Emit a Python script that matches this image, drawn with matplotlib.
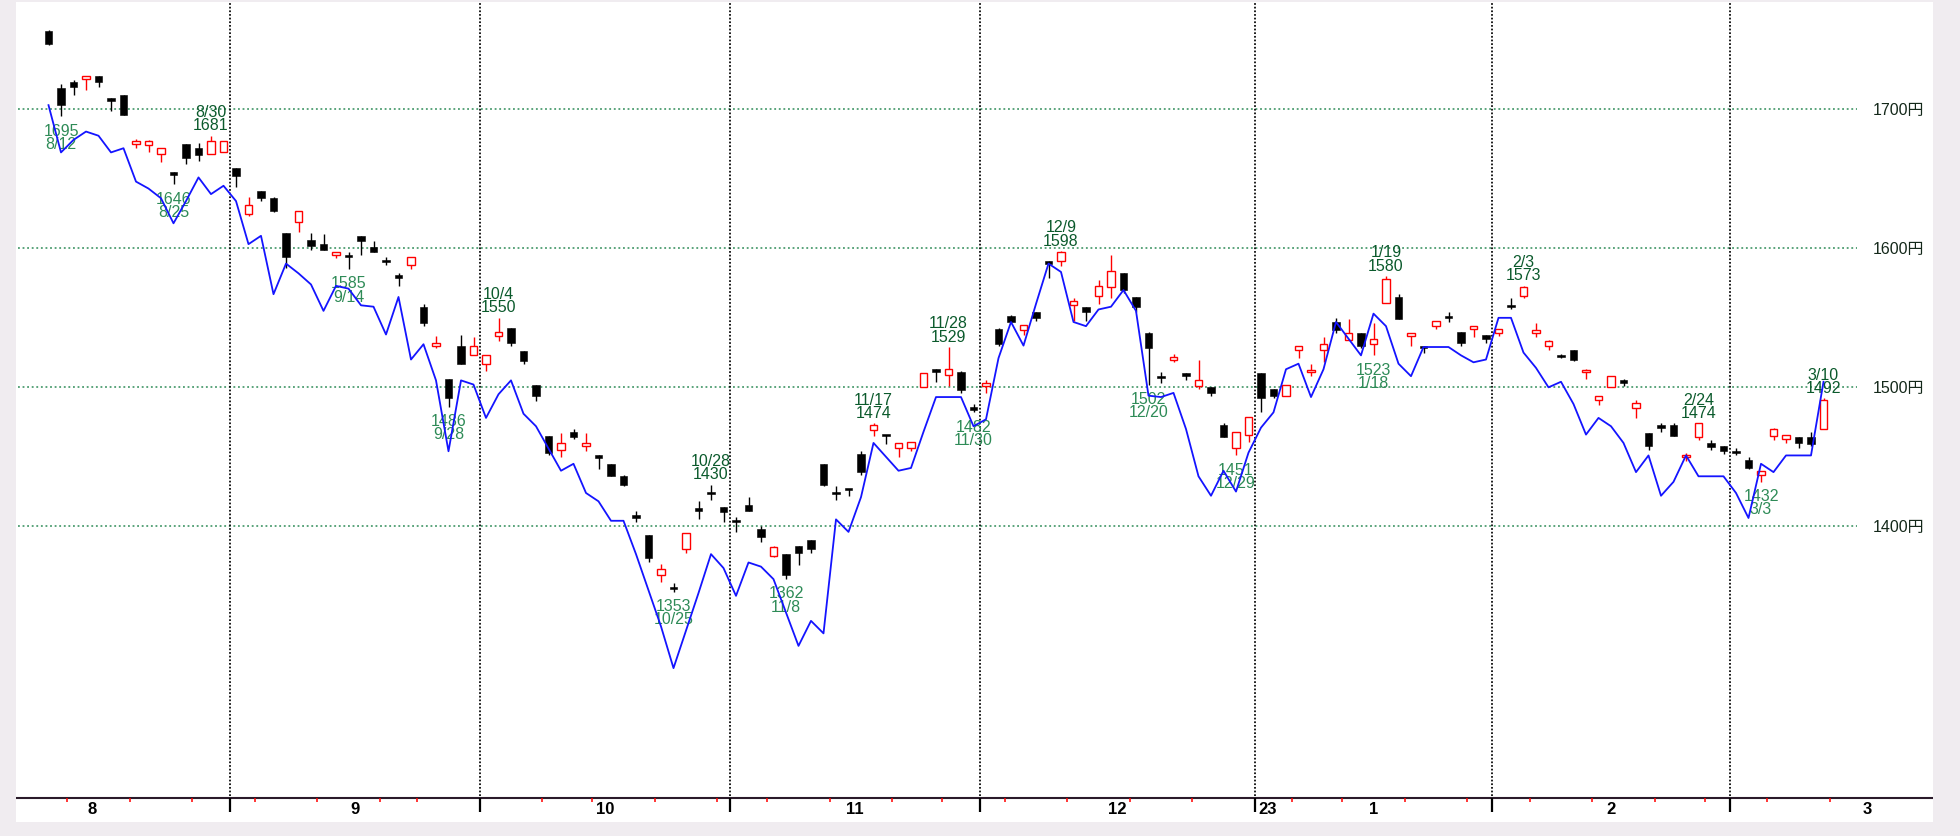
import numpy as np
import pandas as pd
import matplotlib
matplotlib.use("Agg")
import matplotlib.pyplot as plt
from matplotlib.patches import Rectangle
from matplotlib.transforms import blended_transform_factory

# trading calendar (Tokyo), Aug 2022 - Mar 2023
holidays = ['2022-08-11', '2022-09-19', '2022-09-23', '2022-10-10', '2022-11-03',
            '2022-11-23', '2023-01-02', '2023-01-03', '2023-01-09', '2023-02-23',
            '2023-03-21']
cal = pd.bdate_range('2022-08-01', '2023-03-31', freq='C', holidays=holidays)
first_day = '2022-08-10'
last_day = '2023-03-10'

# daily candles 8/10 .. 3/10
opens = [1756, 1715, 1720, 1722, 1724, 1708, 1710, 1675, 1674, 1668,
         1655, 1675, 1672, 1668, 1669, 1658, 1625, 1641, 1636, 1611,
         1619, 1606, 1603, 1595, 1595, 1609, 1601, 1591, 1580, 1588,
         1558, 1530, 1506, 1530, 1523, 1517, 1537, 1543, 1526, 1502,
         1465, 1455, 1468, 1458, 1451, 1445, 1436, 1408, 1394, 1365,
         1356, 1384, 1413, 1424, 1414, 1404, 1415, 1398, 1379, 1380,
         1386, 1390, 1445, 1424, 1427, 1452, 1469, 1466, 1456, 1456,
         1500, 1513, 1509, 1511, 1485, 1501, 1542, 1551, 1541, 1554,
         1591, 1591, 1559, 1558, 1566, 1572, 1582, 1565, 1539, 1508,
         1520, 1510, 1501, 1500, 1473, 1456, 1466, 1510, 1499, 1494,
         1527, 1511, 1527, 1547, 1534, 1539, 1531, 1561, 1565, 1537,
         1529, 1544, 1551, 1540, 1542, 1538, 1539, 1559, 1566, 1539,
         1530, 1523, 1527, 1511, 1491, 1500, 1505, 1485, 1467, 1473,
         1473, 1450, 1464, 1460, 1458, 1454, 1448, 1437, 1465, 1463,
         1464, 1464, 1470]
highs = [1757, 1718, 1721, 1724, 1724, 1708, 1710, 1679, 1678, 1672,
         1655, 1675, 1676, 1681, 1677, 1658, 1637, 1641, 1637, 1611,
         1627, 1611, 1610, 1597, 1597, 1609, 1605, 1594, 1582, 1594,
         1560, 1537, 1506, 1538, 1536, 1523, 1550, 1543, 1526, 1502,
         1465, 1467, 1470, 1467, 1451, 1445, 1437, 1411, 1394, 1373,
         1359, 1395, 1418, 1430, 1414, 1407, 1421, 1400, 1386, 1380,
         1386, 1390, 1445, 1429, 1427, 1454, 1474, 1466, 1460, 1461,
         1510, 1513, 1529, 1512, 1488, 1505, 1543, 1552, 1545, 1554,
         1591, 1598, 1564, 1558, 1577, 1595, 1582, 1565, 1540, 1511,
         1524, 1510, 1520, 1500, 1474, 1468, 1479, 1510, 1499, 1502,
         1530, 1517, 1536, 1550, 1549, 1539, 1546, 1580, 1567, 1539,
         1530, 1548, 1554, 1540, 1544, 1538, 1542, 1564, 1573, 1546,
         1534, 1524, 1527, 1513, 1494, 1508, 1506, 1491, 1467, 1474,
         1474, 1453, 1474, 1462, 1458, 1456, 1450, 1440, 1471, 1466,
         1464, 1468, 1492]
lows = [1746, 1695, 1710, 1714, 1716, 1699, 1696, 1672, 1669, 1662,
        1646, 1661, 1663, 1668, 1669, 1644, 1623, 1634, 1626, 1586,
        1612, 1599, 1599, 1593, 1585, 1595, 1597, 1588, 1573, 1585,
        1544, 1528, 1486, 1517, 1523, 1512, 1533, 1530, 1517, 1490,
        1451, 1450, 1463, 1454, 1441, 1436, 1429, 1403, 1374, 1360,
        1353, 1381, 1405, 1419, 1403, 1396, 1411, 1389, 1378, 1362,
        1372, 1381, 1429, 1419, 1422, 1437, 1465, 1459, 1450, 1454,
        1500, 1504, 1501, 1496, 1482, 1496, 1530, 1547, 1538, 1548,
        1579, 1587, 1548, 1548, 1560, 1564, 1568, 1554, 1502, 1503,
        1518, 1505, 1499, 1494, 1464, 1451, 1461, 1482, 1492, 1494,
        1521, 1508, 1518, 1539, 1534, 1528, 1523, 1561, 1549, 1530,
        1525, 1542, 1547, 1530, 1536, 1532, 1537, 1556, 1564, 1536,
        1527, 1521, 1519, 1506, 1487, 1500, 1501, 1478, 1455, 1468,
        1465, 1447, 1462, 1455, 1452, 1451, 1441, 1432, 1462, 1460,
        1456, 1458, 1470]
closes = [1747, 1703, 1716, 1724, 1720, 1706, 1696, 1677, 1677, 1672,
          1653, 1665, 1667, 1677, 1677, 1652, 1631, 1636, 1627, 1594,
          1627, 1602, 1599, 1597, 1594, 1605, 1597, 1590, 1579, 1594,
          1546, 1532, 1492, 1517, 1530, 1523, 1540, 1532, 1519, 1494,
          1453, 1460, 1464, 1460, 1449, 1436, 1430, 1406, 1377, 1369,
          1355, 1395, 1411, 1423, 1410, 1403, 1411, 1392, 1385, 1365,
          1381, 1384, 1430, 1423, 1426, 1439, 1473, 1465, 1460, 1461,
          1510, 1511, 1513, 1498, 1484, 1503, 1531, 1547, 1545, 1550,
          1589, 1597, 1562, 1554, 1573, 1584, 1570, 1558, 1528, 1507,
          1522, 1508, 1505, 1496, 1464, 1468, 1479, 1492, 1494, 1502,
          1530, 1512, 1531, 1541, 1539, 1530, 1535, 1578, 1549, 1539,
          1528, 1548, 1550, 1532, 1544, 1535, 1542, 1558, 1572, 1541,
          1533, 1522, 1520, 1512, 1494, 1508, 1503, 1489, 1458, 1471,
          1465, 1451, 1474, 1457, 1454, 1453, 1442, 1440, 1470, 1466,
          1460, 1459, 1491]
# comparison line (blue)
compare = [1703, 1669, 1678, 1684, 1681, 1669, 1672, 1648, 1643, 1636,
           1618, 1634, 1651, 1639, 1645, 1634, 1603, 1609, 1567, 1589,
           1582, 1574, 1555, 1573, 1571, 1559, 1558, 1538, 1565, 1520,
           1531, 1505, 1454, 1505, 1502, 1478, 1495, 1505, 1481, 1472,
           1456, 1440, 1445, 1424, 1418, 1404, 1404, 1380, 1354, 1328,
           1298, 1325, 1352, 1380, 1370, 1350, 1374, 1371, 1362, 1338,
           1314, 1332, 1323, 1405, 1396, 1421, 1460, 1450, 1440, 1442,
           1468, 1493, 1493, 1493, 1472, 1477, 1521, 1547, 1530, 1560,
           1589, 1583, 1547, 1544, 1556, 1558, 1570, 1555, 1494, 1493,
           1496, 1470, 1436, 1422, 1440, 1425, 1453, 1471, 1482, 1513,
           1517, 1493, 1513, 1547, 1535, 1523, 1553, 1544, 1517, 1508,
           1529, 1529, 1529, 1523, 1518, 1520, 1550, 1550, 1525, 1514,
           1500, 1504, 1488, 1466, 1478, 1472, 1460, 1439, 1451, 1422,
           1432, 1451, 1436, 1436, 1436, 1424, 1406, 1445, 1439, 1451,
           1451, 1451, 1504]

# marked highs / lows (date, price)
peak_dates = ['2022-08-30', '2022-10-04', '2022-10-28', '2022-11-17', '2022-11-28',
              '2022-12-09', '2023-01-19', '2023-02-03', '2023-02-24', '2023-03-10']
peak_vals = [1681, 1550, 1430, 1474, 1529, 1598, 1580, 1573, 1474, 1492]
trough_dates = ['2022-08-12', '2022-08-25', '2022-09-14', '2022-09-28', '2022-10-25',
                '2022-11-08', '2022-11-30', '2022-12-20', '2022-12-29', '2023-01-18',
                '2023-03-03']
trough_vals = [1695, 1646, 1585, 1486, 1353, 1362, 1482, 1502, 1451, 1523, 1432]

price_grid = [1400, 1500, 1600, 1700]

jp = ['Liberation Sans', 'Noto Sans CJK JP']

fig = plt.figure(figsize=(19.6, 8.37), dpi=100, facecolor='#f0ecf0')
ax = fig.add_axes([16/1960, 14/837, 1917/1960, 820/837])
ax.set_facecolor('white')
for s in ax.spines.values():
    s.set_visible(False)
ax.set_xticks([])
ax.set_yticks([])
ax.set_xlim(4.4, 157.76)
ax.set_ylim(1187.3, 1777.2)

i0 = cal.get_loc(pd.Timestamp(first_day))
i1 = cal.get_loc(pd.Timestamp(last_day))
xs = np.arange(i0, i1 + 1)
n = len(xs)
o = np.array(opens[:n]); h = np.array(highs[:n]); l = np.array(lows[:n]); c = np.array(closes[:n])

xa = ax.get_xaxis_transform()   # x data, y axes
ya = blended_transform_factory(ax.transAxes, ax.transData)

# price grid
for p in price_grid:
    ax.plot([4.56, 151.68], [p, p], color='#2e8b57', lw=1.1,
            dashes=(1.2, 1.8), zorder=1)
    ax.text(0.9687, p, f'{p}円', transform=ya, ha='left', va='center',
            fontsize=11.5, color='#14281a', family=jp)

# month separators, month labels, week ticks
ax.plot([4.4, 157.76], [0.0293, 0.0293], transform=xa, color='#2a1a2a', lw=1.5,
        zorder=4, solid_capstyle='butt')
months = pd.Series(np.arange(len(cal)), index=cal)
for (yr, mo), grp in months.groupby([cal.year, cal.month]):
    start, end = grp.iloc[0], grp.iloc[-1]
    ctr = (start + end) / 2
    ax.text(ctr, 0.0159, str(mo), transform=xa, ha='center', va='center',
            fontsize=12, fontweight='bold', color='black', family=jp)
    if start > 0:
        b = start - 0.5
        ax.plot([b, b], [0.0317, 1.0], transform=xa, color='black', lw=1.25,
                dashes=(1, 1.1), zorder=1)
        ax.plot([b, b], [0.0293, 0.0122], transform=xa, color='black', lw=1.6,
                zorder=4, solid_capstyle='butt')
        if mo == 1:
            ax.annotate(str(yr)[-2:], xy=(b, 0.0159), xycoords=xa,
                        xytext=(2.5, 0), textcoords='offset points',
                        ha='left', va='center', fontsize=12,
                        fontweight='bold', color='black', family=jp)

wk = cal.isocalendar().week.values
mo_arr = cal.month.values
for k in range(i0, min(i1 + 2, len(cal))):
    if wk[k] != wk[k - 1] and mo_arr[k] == mo_arr[k - 1]:
        ax.plot([k - 0.5, k - 0.5], [0.0293, 0.0238], transform=xa,
                color='#ff0000', lw=1.1, zorder=5, solid_capstyle='butt')

# candles
w = 0.62
for x, oo, hh, ll, cc in zip(xs, o, h, l, c):
    up = cc > oo
    col = '#ff0000' if up else 'black'
    ax.plot([x, x], [ll, hh], color=col, lw=1.0, zorder=2, solid_capstyle='butt')
    bot = min(oo, cc)
    ht = max(abs(cc - oo), 1.5)
    if up:
        ax.add_patch(Rectangle((x - w/2, bot), w, ht, facecolor='white',
                               edgecolor=col, lw=1.0, zorder=3))
    else:
        ax.add_patch(Rectangle((x - w/2, bot), w, ht, facecolor='black',
                               edgecolor='black', lw=0.4, zorder=3))

# blue comparison line
ax.plot(xs, compare[:n], color='#1414ff', lw=1.3, zorder=6)

# labels for marked highs and lows
for d, v in zip(peak_dates, peak_vals):
    x = cal.get_loc(pd.Timestamp(d))
    ts = pd.Timestamp(d)
    ax.annotate(f'{ts.month}/{ts.day}\n{v}', xy=(x, v), xytext=(0, 2.5),
                textcoords='offset points', ha='center', va='bottom',
                fontsize=11.5, color='#0b5a2c', family=jp, linespacing=0.85,
                zorder=5)
for d, v in zip(trough_dates, trough_vals):
    x = cal.get_loc(pd.Timestamp(d))
    ts = pd.Timestamp(d)
    ax.annotate(f'{v}\n{ts.month}/{ts.day}', xy=(x, v), xytext=(0, -4.5),
                textcoords='offset points', ha='center', va='top',
                fontsize=11.5, color='#2e8b57', family=jp, linespacing=0.85,
                zorder=5)

fig.savefig('out.png', dpi=100, facecolor=fig.get_facecolor())
